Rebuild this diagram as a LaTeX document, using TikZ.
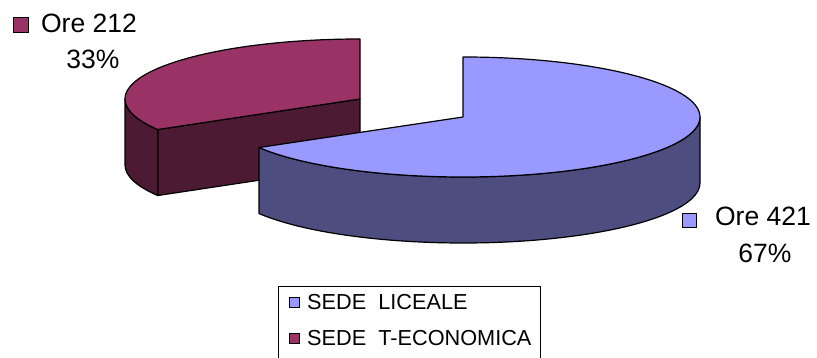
\documentclass[tikz,border=0pt]{standalone}
\usepackage{fontspec}
\setmainfont{Liberation Sans}
\usetikzlibrary{calc}
\definecolor{blueTop}{RGB}{153,153,255}
\definecolor{blueSide}{RGB}{77,77,128}
\definecolor{redTop}{RGB}{153,51,102}
\definecolor{redSide}{RGB}{77,26,51}
\tikzset{
  face/.style={draw=black, line width=1.2pt, line join=round},
  lbl/.style={inner sep=0pt, font=\fontsize{26.5}{30}\selectfont},
  legtxt/.style={inner sep=0pt, anchor=base west, font=\fontsize{21.7}{25}\selectfont},
  mark box/.style={draw=black, line width=1pt, minimum size=#1, inner sep=0pt},
}
\begin{document}
\begin{tikzpicture}[x=1pt,y=1pt]
\useasboundingbox (0,0) rectangle (817,358);
% ---------- red (exploded) slice ----------
\coordinate (R) at (360,259);
\coordinate (Rp) at ([shift={(210.6:235pt and 60pt)}]R);
\coordinate (Rb) at ([shift={(0,-66pt)}]R);
\coordinate (Rpb) at ([shift={(0,-66pt)}]Rp);
\filldraw[face, fill=redSide] (R) -- (Rp) -- (Rpb) -- (Rb) -- cycle;
\filldraw[face, fill=redSide] ([shift={(180:235pt and 60pt)}]R)
  arc[start angle=180, end angle=210.6, x radius=235pt, y radius=60pt]
  -- (Rpb)
  arc[start angle=210.6, end angle=180, x radius=235pt, y radius=60pt] -- cycle;
\filldraw[face, fill=redTop] (R) -- ([shift={(90:235pt and 60pt)}]R)
  arc[start angle=90, end angle=210.6, x radius=235pt, y radius=60pt] -- cycle;
% ---------- blue slice ----------
\coordinate (B) at (463,241);
\coordinate (Bp) at ([shift={(-149.4:237pt and 60pt)}]B);
\filldraw[face, fill=blueSide] ([shift={(0:237pt and 60pt)}]B)
  arc[start angle=0, end angle=-149.4, x radius=237pt, y radius=60pt]
  -- ++(0,-66pt)
  arc[start angle=-149.4, end angle=0, x radius=237pt, y radius=60pt] -- cycle;
\filldraw[face, fill=blueTop] (B) -- ([shift={(90:237pt and 60pt)}]B)
  arc[start angle=90, end angle=-149.4, x radius=237pt, y radius=60pt] -- cycle;
% ---------- data labels ----------
\node[mark box=15pt, fill=redTop] (mR) at (21,332.5) {};
\node[lbl, anchor=base] (lR1) at (89,325) {Ore 212};
\node[lbl, anchor=base] (lR2) at (93,289) {33\%};
\node[mark box=14pt, fill=blueTop] (mB) at (689,137.5) {};
\node[lbl, anchor=base] (lB1) at (763,132) {Ore 421};
\node[lbl, anchor=base] (lB2) at (765,95) {67\%};
% ---------- legend ----------
\begin{scope}
\clip (0,0) rectangle (817,358);
\node[draw=black, line width=1pt, anchor=north west, minimum width=262pt, minimum height=90pt, inner sep=0pt] (legend) at (278,72) {};
\end{scope}
\node[mark box=10pt, fill=blueTop] (lg1) at (294,55) {};
\node[legtxt] (lt1) at (307,48) {SEDE\ \ LICEALE};
\node[mark box=10pt, fill=redTop] (lg2) at (294,19) {};
\node[legtxt] (lt2) at (307,12) {SEDE\ \ T-ECONOMICA};
\end{tikzpicture}
\end{document}
